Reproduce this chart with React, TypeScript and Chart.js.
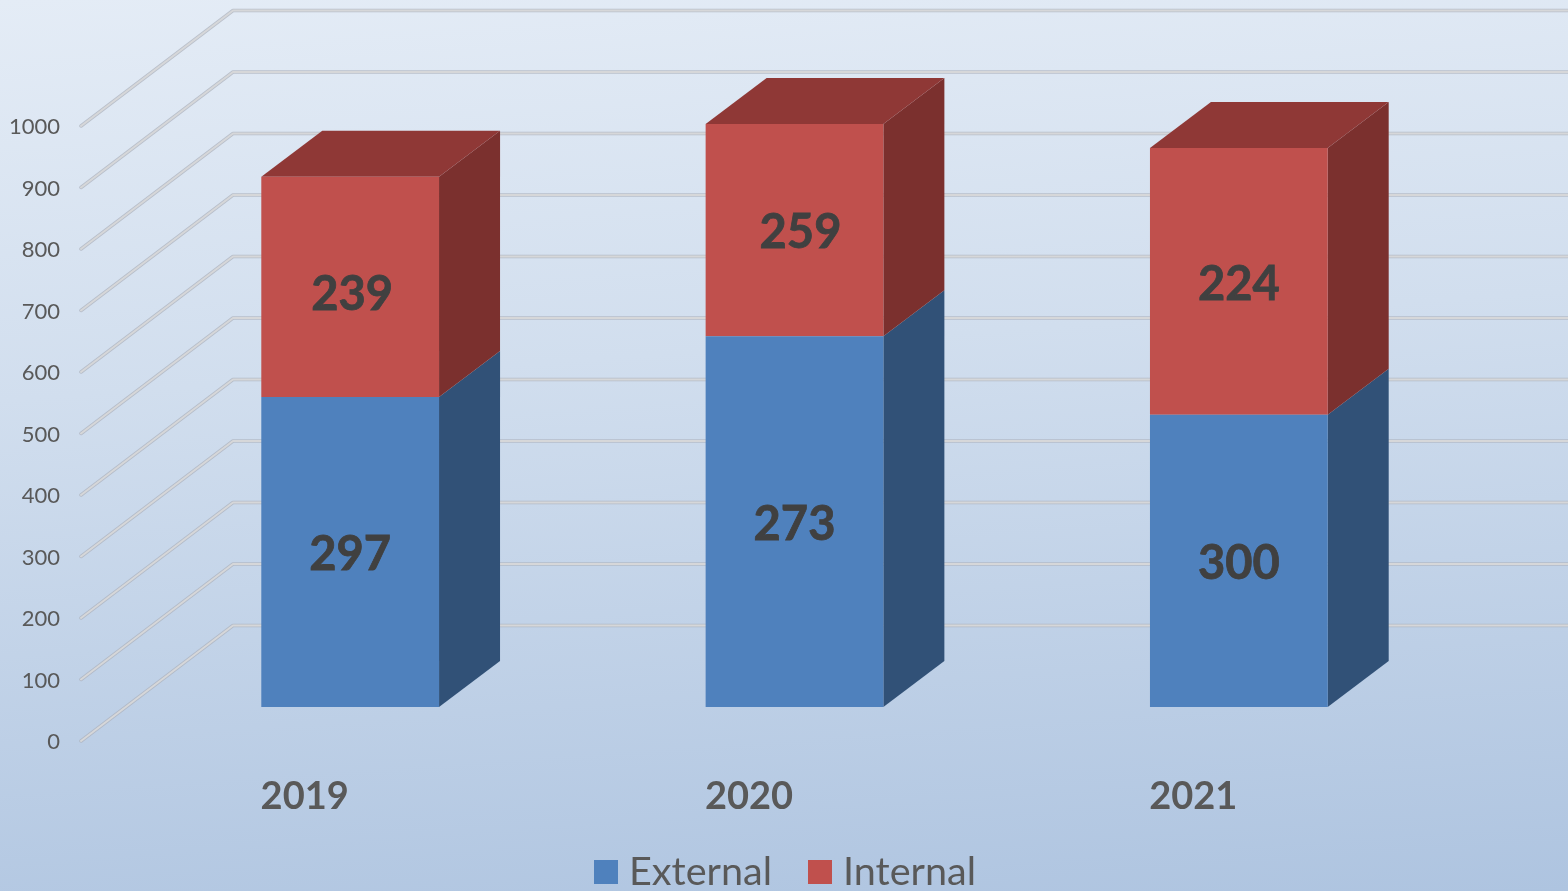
import React, { useEffect, useRef } from "react";
import { Chart, registerables } from "chart.js";

Chart.register(...registerables);

const years = ["2019", "2020", "2021"];
const seriesNames = ["External", "Internal"];
// Bar heights as drawn, read against the axis
const externalHeights = [504, 603, 475];
const internalHeights = [358, 345, 434];
// Labels printed on the bars (they differ from the drawn heights in the source)
const externalLabels = ["297", "273", "300"];
const internalLabels = ["239", "259", "224"];
const axisMax = 1000;
const axisStep = 100;

const FONT = "Lato, Carlito, 'Open Sans', sans-serif";
const DEPTH_X = 61;
const DEPTH_Y = -46;
const WALL_X = 152;
const WALL_Y = -115.5;
const externalLabelNudge = [[0, 3], [0, 3], [0, 3]];
const internalLabelNudge = [[2, 8], [6, 3], [0, 3]];

const frontColors = ["#4f81bd", "#c0504d"];
const sideColors = ["#315177", "#7b302e"];
const topColor = "#8f3836";

const poly = (ctx: CanvasRenderingContext2D, pts: number[][], fill: string) => {
  ctx.beginPath();
  pts.forEach((p, i) => (i ? ctx.lineTo(p[0], p[1]) : ctx.moveTo(p[0], p[1])));
  ctx.closePath();
  ctx.fillStyle = fill;
  ctx.fill();
};

const wallAndDepth = {
  id: "wallAndDepth",
  beforeDatasetsDraw(chart: any) {
    const { ctx, scales, width } = chart;
    const yS = scales.y;
    ctx.save();
    ctx.lineCap = "round";
    ctx.lineJoin = "round";
    for (let v = 0; v <= axisMax; v += axisStep) {
      const py = yS.getPixelForValue(v);
      const sx = 81;
      const bx = sx + WALL_X;
      const by = py + WALL_Y;
      ctx.beginPath();
      ctx.moveTo(sx, py);
      ctx.lineTo(bx, by);
      ctx.lineTo(width, by);
      ctx.strokeStyle = "rgba(172,178,188,0.75)";
      ctx.lineWidth = 3.5;
      ctx.stroke();
      ctx.beginPath();
      ctx.moveTo(sx, py);
      ctx.lineTo(bx, by);
      ctx.lineTo(width, by);
      ctx.strokeStyle = "#d6d7d9";
      ctx.lineWidth = 2;
      ctx.stroke();
    }
    ctx.restore();

    const metas = [chart.getDatasetMeta(0), chart.getDatasetMeta(1)];
    metas.forEach((meta: any, s: number) => {
      meta.data.forEach((bar: any) => {
        const r = bar.x + bar.width / 2;
        const top = Math.min(bar.y, bar.base);
        const bottom = Math.max(bar.y, bar.base);
        poly(ctx, [[r, top], [r + DEPTH_X, top + DEPTH_Y], [r + DEPTH_X, bottom + DEPTH_Y], [r, bottom]], sideColors[s]);
        if (s === metas.length - 1) {
          const l = bar.x - bar.width / 2;
          poly(ctx, [[l, top], [l + DEPTH_X, top + DEPTH_Y], [r + DEPTH_X, top + DEPTH_Y], [r, top]], topColor);
        }
      });
    });
  },
};

const barLabels = {
  id: "barLabels",
  afterDatasetsDraw(chart: any) {
    const { ctx } = chart;
    const sets = [
      { texts: externalLabels, nudge: externalLabelNudge },
      { texts: internalLabels, nudge: internalLabelNudge },
    ];
    ctx.save();
    ctx.font = `bold 47px ${FONT}`;
    ctx.fillStyle = "#404040";
    ctx.strokeStyle = "#404040";
    ctx.lineWidth = 0.8;
    ctx.textAlign = "center";
    ctx.textBaseline = "middle";
    sets.forEach((set, s) => {
      chart.getDatasetMeta(s).data.forEach((bar: any, i: number) => {
        const x = bar.x + set.nudge[i][0];
        const y = (bar.y + bar.base) / 2 + set.nudge[i][1];
        ctx.fillText(set.texts[i], x, y);
        ctx.strokeText(set.texts[i], x, y);
      });
    });
    ctx.restore();
  },
};

const bottomLegend = {
  id: "bottomLegend",
  afterDraw(chart: any) {
    const { ctx } = chart;
    const boxX = [594, 808];
    ctx.save();
    ctx.font = `39.6px ${FONT}`;
    ctx.textAlign = "left";
    ctx.textBaseline = "middle";
    chart.data.datasets.forEach((ds: any, i: number) => {
      ctx.fillStyle = ds.backgroundColor;
      ctx.fillRect(boxX[i], 860, 24, 24);
      ctx.fillStyle = "#595959";
      ctx.fillText(ds.label, boxX[i] + 35, 872);
    });
    ctx.restore();
  },
};

export default function App() {
  const ref = useRef<HTMLCanvasElement>(null);
  useEffect(() => {
    const chart = new Chart(ref.current as HTMLCanvasElement, {
      type: "bar",
      data: {
        labels: years,
        datasets: [
          { label: seriesNames[0], data: externalHeights, backgroundColor: frontColors[0], yAxisID: "yBar", clip: false, barPercentage: 0.4, categoryPercentage: 1 },
          { label: seriesNames[1], data: internalHeights, backgroundColor: frontColors[1], yAxisID: "yBar", clip: false, barPercentage: 0.4, categoryPercentage: 1 },
        ],
      } as any,
      options: {
        responsive: false,
        animation: false,
        devicePixelRatio: 1,
        layout: { padding: { top: 126, right: 107, left: 0, bottom: 0 } },
        plugins: { legend: { display: false }, tooltip: { enabled: false }, title: { display: false } },
        scales: {
          x: {
            stacked: true,
            grid: { display: false },
            border: { display: false },
            ticks: { color: "#595959", font: { family: FONT, size: 38, weight: "bold" }, labelOffset: -45.5, padding: 25, maxRotation: 0 },
            afterFit(scale: any) { scale.height = 150; },
          },
          y: {
            min: 0,
            max: axisMax,
            position: "left",
            grid: { display: false },
            border: { display: false },
            ticks: { stepSize: axisStep, color: "#595959", font: { family: FONT, size: 22 }, padding: 60, labelOffset: 1, callback: (v: any) => String(v) },
            afterFit(scale: any) { scale.width = 128; },
          },
          yBar: {
            stacked: true,
            display: false,
            min: -55.3,
            max: 944.7,
          },
        },
      } as any,
      plugins: [wallAndDepth, barLabels, bottomLegend],
    });
    return () => chart.destroy();
  }, []);
  return (
    <div style={{ position: "fixed", inset: 0, overflow: "hidden", background: "linear-gradient(176deg, #e4ecf6 0%, #d1deee 40%, #aec4e0 100%)" }}>
      <canvas ref={ref} width={1568} height={891} style={{ display: "block", width: 1568, height: 891 }} />
    </div>
  );
}
